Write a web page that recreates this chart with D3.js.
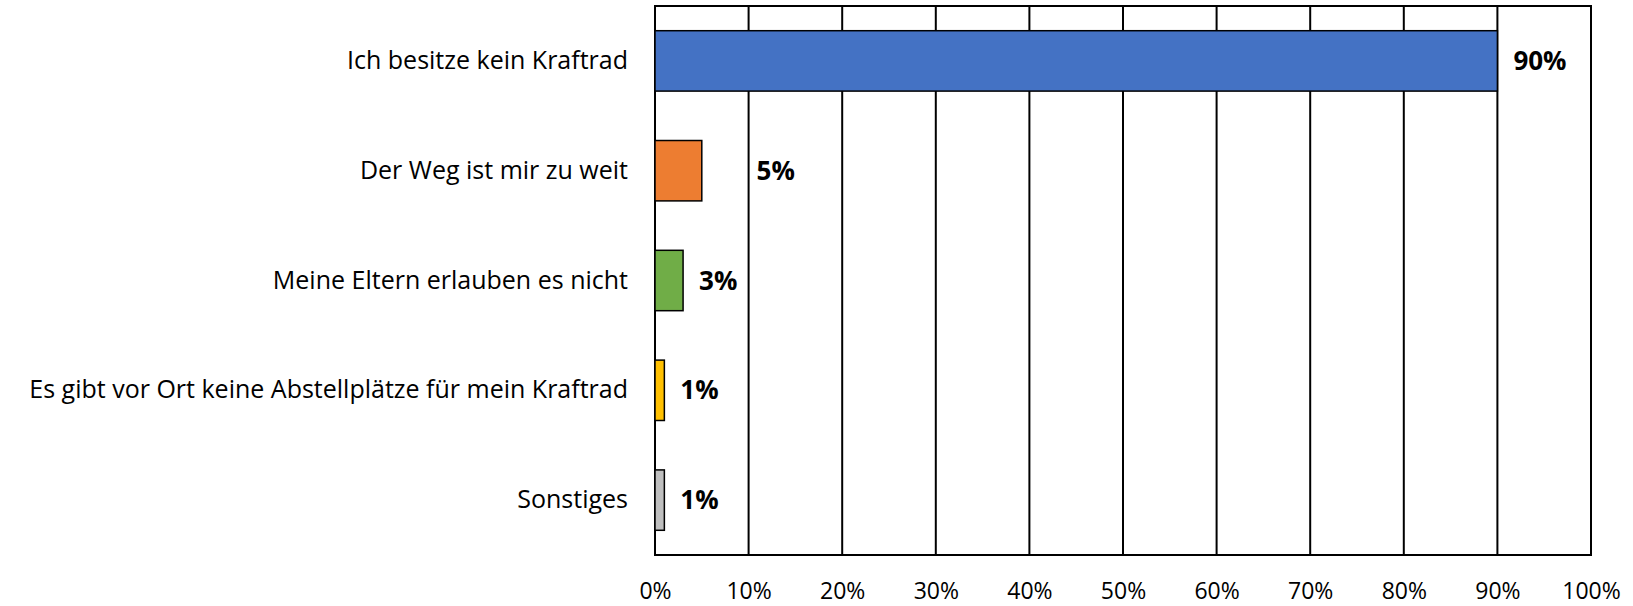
<!DOCTYPE html>
<html>
<head>
<meta charset="utf-8">
<script src="https://cdn.jsdelivr.net/npm/d3@7"></script>
<style>
  body { margin: 0; background: #fff; }
  text { font-family: "Open Sans", "Noto Sans", sans-serif; fill: #000; }
</style>
</head>
<body>
<div id="chart"></div>
<script>
// data
var categories = [
    "Ich besitze kein Kraftrad",
    "Der Weg ist mir zu weit",
    "Meine Eltern erlauben es nicht",
    "Es gibt vor Ort keine Abstellplätze für mein Kraftrad",
    "Sonstiges"
];
var values = [90, 5, 3, 1, 1];
var colors = ["#4472C4", "#ED7D31", "#70AD47", "#FFC000", "#BFBFBF"];
var xTicks = [0, 10, 20, 30, 40, 50, 60, 70, 80, 90, 100];

var outerWidth = 1633,
    outerHeight = 606,
    margin = { top: 6, right: 42, bottom: 51, left: 655 },
    width = outerWidth - margin.left - margin.right,
    height = outerHeight - margin.top - margin.bottom;

var data = categories.map(function(c, i) {
    return { name: c, value: values[i], color: colors[i] };
});

var x = d3.scaleLinear().domain([0, 100]).range([0, width]);
var y = d3.scaleBand().domain(categories).range([0, height]).paddingInner(0.45).paddingOuter(0.225);

var svg = d3.select("#chart")
    .append("svg")
    .attr("width", outerWidth)
    .attr("height", outerHeight)
    .append("g")
    .attr("transform", "translate(" + margin.left + "," + margin.top + ")");

// grid lines
svg.append("g")
    .selectAll("line")
    .data(xTicks)
    .enter()
    .append("line")
    .attr("x1", function(d) { return x(d); })
    .attr("x2", function(d) { return x(d); })
    .attr("y1", 0)
    .attr("y2", height)
    .attr("stroke", "#000")
    .attr("stroke-width", 2);

svg.append("rect")
    .attr("width", width)
    .attr("height", height)
    .attr("fill", "none")
    .attr("stroke", "#000")
    .attr("stroke-width", 2);

// bars
svg.selectAll(".bar")
    .data(data)
    .enter()
    .append("rect")
    .classed("bar", true)
    .attr("x", 0)
    .attr("y", function(d) { return y(d.name); })
    .attr("width", function(d) { return x(d.value); })
    .attr("height", y.bandwidth())
    .attr("fill", function(d) { return d.color; })
    .attr("stroke", "#000")
    .attr("stroke-width", 1.5);

// value labels, pushed past a grid line if they would sit on it
var labels = svg.selectAll(".val")
    .data(data)
    .enter()
    .append("text")
    .classed("val", true)
    .attr("x", function(d) { return x(d.value) + 16; })
    .attr("y", function(d) { return y(d.name) + y.bandwidth() / 2; })
    .attr("dy", "0.35em")
    .style("font-size", "26px")
    .style("font-weight", "bold")
    .text(function(d) { return d.value + "%"; });

labels.each(function(d) {
    var el = d3.select(this),
        x0 = +el.attr("x"),
        w = this.getComputedTextLength();
    xTicks.forEach(function(t) {
        var gx = x(t);
        if (t > d.value && gx > x0 - 2 && gx < x0 + w + 2) {
            el.attr("x", gx + 8);
        }
    });
});

// category labels
var yAxis = d3.axisLeft(y).tickSize(0).tickPadding(27);
svg.append("g")
    .call(yAxis)
    .call(function(g) { g.select(".domain").remove(); })
    .selectAll("text")
    .style("font-size", "25px")
    .style("font-family", "'Open Sans', sans-serif");

// x axis labels
var xAxis = d3.axisBottom(x)
    .tickValues(xTicks)
    .tickSize(0)
    .tickPadding(28)
    .tickFormat(function(d) { return d + "%"; });
svg.append("g")
    .attr("transform", "translate(0," + height + ")")
    .call(xAxis)
    .call(function(g) { g.select(".domain").remove(); })
    .selectAll("text")
    .style("font-size", "23px")
    .style("font-family", "'Open Sans', sans-serif");
</script>
</body>
</html>
